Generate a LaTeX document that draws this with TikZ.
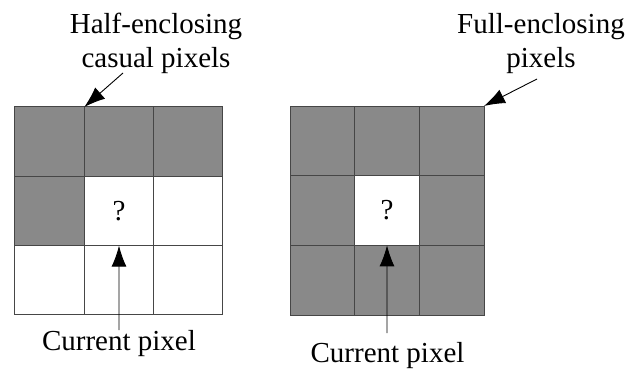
\documentclass[tikz,border=0pt]{standalone}
\usepackage{fontspec}
\setmainfont{Liberation Serif}
\usetikzlibrary{positioning,arrows.meta}
\definecolor{cellgray}{RGB}{137,137,137}
\definecolor{gridline}{RGB}{70,70,70}
\begin{document}
\begin{tikzpicture}[x=1pt,y=-1pt]
	\tikzset{
		pixel cell/.style = {shape=rectangle, draw=gridline, line width=1pt, inner sep=0pt, outer sep=0pt},
		pointer/.style = {line width=0.9pt, -{Latex[length=21pt,width=15pt]}},
		caption text/.style = {inner sep=0pt, align=center, font=\rmfamily\fontsize{29}{34}\selectfont}
		}
		\useasboundingbox (0,0) rectangle (636,371);

		% left 3x3 window, causal neighbours shaded
		\foreach \r/\c/\f in {1/1/cellgray,1/2/cellgray,1/3/cellgray,
				2/1/cellgray,2/2/white,2/3/white,
				3/1/white,3/2/white,3/3/white}
			\path (15+69.33*\c-34.67, 107+69.33*\r-34.67) node [name=L-\r-\c, pixel cell, fill=\f, minimum width=69.33pt, minimum height=69.33pt] {};

		% right 3x3 window, all neighbours shaded
		\foreach \r/\c/\f in {1/1/cellgray,1/2/cellgray,1/3/cellgray,
				2/1/cellgray,2/2/white,2/3/cellgray,
				3/1/cellgray,3/2/cellgray,3/3/cellgray}
			\path (290+64.67*\c-32.33, 106+69.67*\r-34.83) node [name=R-\r-\c, pixel cell, fill=\f, minimum width=64.67pt, minimum height=69.67pt] {};

		\path (L-2-2) node [name=qL, caption text] {?};
		\path (R-2-2) node [name=qR, caption text] {?};

		\path 	(156,13) node [name=half, anchor=north, caption text] {Half-enclosing\\casual pixels}
				(541,13) node [name=full, anchor=north, caption text] {Full-enclosing\\pixels}
				(119,350) node [name=curL, anchor=base, caption text] {Current pixel}
				(387.5,362) node [name=curR, anchor=base, caption text] {Current pixel};

		\coordinate (half tail) at (123,73);
		\coordinate (full tail) at (537,79);
		\coordinate (curL tail) at (119,330);
		\coordinate (curR tail) at (387,333);

		\draw [pointer] (half tail) -- (L-1-1.north east);
		\draw [pointer] (full tail) -- (R-1-3.north east);
		\draw [pointer] (curL tail) -- (L-2-2.south);
		\draw [pointer] (curR tail) -- (R-2-2.south);

	\end{tikzpicture}
\end{document}
